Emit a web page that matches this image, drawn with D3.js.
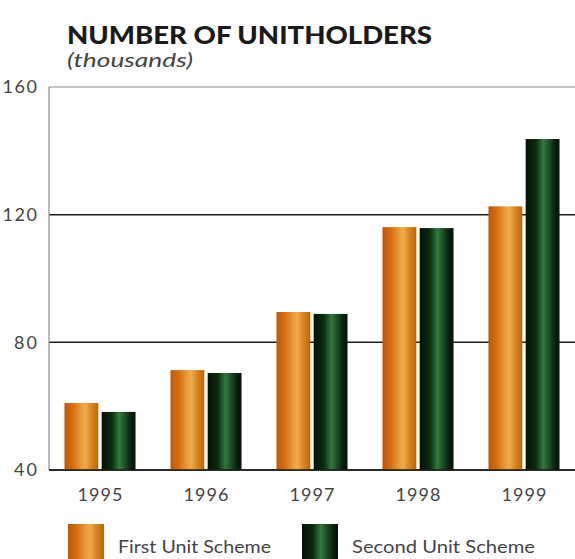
<!DOCTYPE html>
<html>
<head>
<meta charset="utf-8">
<script src="https://cdn.jsdelivr.net/npm/d3@7"></script>
<style>
  html, body { margin: 0; padding: 0; background: #ffffff; }
  svg { display: block; }
  text { font-family: Lato, "Open Sans", "DejaVu Sans", sans-serif; }
</style>
</head>
<body>
<svg id="chart" width="575" height="559"></svg>
<script>
// Number of unitholders, in thousands
const years = ["1995", "1996", "1997", "1998", "1999"];
const firstScheme = [61, 71.3, 89.5, 116.1, 122.6];
const secondScheme = [58.2, 70.4, 88.9, 115.8, 143.7];
const seriesNames = ["First Unit Scheme", "Second Unit Scheme"];
const yTicks = [40, 80, 120, 160];

const svg = d3.select("#chart");
const plot = { left: 49, right: 575, top: 87, bottom: 470 };

// Cylinder-like shading for the bars
const defs = svg.append("defs");
function shade(id, stops) {
  const g = defs.append("linearGradient").attr("id", id)
    .attr("x1", "0%").attr("x2", "100%").attr("y1", "0%").attr("y2", "0%");
  stops.forEach(([o, c]) => g.append("stop").attr("offset", o).attr("stop-color", c));
}
shade("gOrange", [["0%", "#c2560a"], ["25%", "#d46e12"], ["50%", "#eb9c3c"], ["62%", "#efa94e"], ["80%", "#d5841e"], ["100%", "#bc640c"]]);
shade("gGreen", [["0%", "#041204"], ["30%", "#0b2a10"], ["52%", "#2f7a3a"], ["62%", "#25612c"], ["85%", "#0a2410"], ["100%", "#041004"]]);
const fills = ["url(#gOrange)", "url(#gGreen)"];

const x = d3.scaleBand().domain(years).range([47, 577]).paddingInner(0.33).paddingOuter(0.165);
const xs = d3.scaleBand().domain([0, 1]).range([0, x.bandwidth()]).paddingInner(0.09);
const y = d3.scaleLinear().domain([40, 160]).range([plot.bottom, plot.top]);

// Gridlines
svg.append("g").selectAll("line").data(yTicks).join("line")
  .attr("x1", plot.left).attr("x2", plot.right)
  .attr("y1", d => y(d)).attr("y2", d => y(d))
  .attr("stroke", d => d === 160 ? "#8a8a8a" : "#1e1e1e")
  .attr("stroke-width", d => d === 160 ? 1.2 : 1.5);

// Vertical axis line
svg.append("line")
  .attr("x1", plot.left).attr("x2", plot.left)
  .attr("y1", y(160)).attr("y2", y(40))
  .attr("stroke", "#8a8a8a").attr("stroke-width", 1.2);

// Y tick labels
svg.append("g").selectAll("text").data(yTicks).join("text")
  .attr("x", 37).attr("y", d => y(d)).attr("dy", "0.36em")
  .attr("text-anchor", "end").attr("font-size", 18).attr("fill", "#444")
  .attr("textLength", d => String(d).length * 11.5).attr("lengthAdjust", "spacing")
  .text(d => d);

// Bars
const rows = years.map((yr, i) => ({ yr, vals: [firstScheme[i], secondScheme[i]] }));
svg.append("g").selectAll("g").data(rows).join("g")
  .attr("transform", d => `translate(${x(d.yr)},0)`)
  .selectAll("rect").data(d => d.vals.map((v, k) => ({ v, k }))).join("rect")
  .attr("x", d => xs(d.k)).attr("width", xs.bandwidth())
  .attr("y", d => y(d.v)).attr("height", d => y(40) - y(d.v))
  .attr("fill", d => fills[d.k]);

// Baseline on top of bars
svg.append("line")
  .attr("x1", plot.left).attr("x2", plot.right)
  .attr("y1", y(40)).attr("y2", y(40))
  .attr("stroke", "#1e1e1e").attr("stroke-width", 1.5);

// Year labels
svg.append("g").selectAll("text").data(years).join("text")
  .attr("x", d => x(d) + x.bandwidth() / 2).attr("y", 501)
  .attr("text-anchor", "middle").attr("font-size", 18).attr("fill", "#444")
  .attr("textLength", 45).attr("lengthAdjust", "spacing")
  .text(d => d);

// Title
svg.append("text").attr("x", 67).attr("y", 44)
  .attr("font-size", 24).attr("font-weight", 900).attr("fill", "#1a1a1a")
  .attr("textLength", 365).attr("lengthAdjust", "spacingAndGlyphs")
  .text("NUMBER OF UNITHOLDERS");
svg.append("text").attr("x", 67).attr("y", 67)
  .attr("font-size", 19).attr("font-style", "italic").attr("fill", "#444")
  .attr("textLength", 126).attr("lengthAdjust", "spacingAndGlyphs")
  .text("(thousands)");

// Legend
const legendX = [68, 302];
const legendLen = [153, 183];
seriesNames.forEach((name, k) => {
  svg.append("rect").attr("x", legendX[k]).attr("y", 524)
    .attr("width", 36).attr("height", 36).attr("fill", fills[k]);
  svg.append("text").attr("x", legendX[k] + 50).attr("y", 553)
    .attr("font-size", 17).attr("fill", "#444")
    .attr("textLength", legendLen[k]).attr("lengthAdjust", "spacingAndGlyphs")
    .text(name);
});
</script>
</body>
</html>
